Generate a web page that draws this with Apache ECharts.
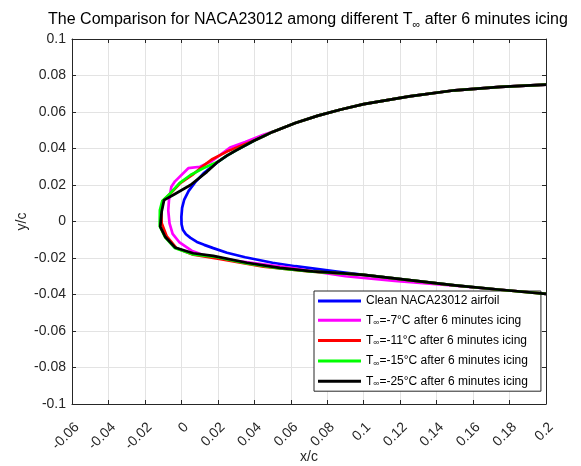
<!DOCTYPE html>
<html>
<head>
<meta charset="utf-8">
<script src="https://cdn.jsdelivr.net/npm/echarts@6/dist/echarts.min.js"></script>
<style>html,body{margin:0;padding:0;background:#fff}#c{width:581px;height:466px}</style>
</head>
<body>
<div id="c"></div>
<script>
// ---- data (x/c, y/c) ----
var X_MIN = -0.06, X_MAX = 0.2, X_STEP = 0.02;
var Y_MIN = -0.1, Y_MAX = 0.1, Y_STEP = 0.02;
var xTickLabels = ['-0.06','-0.04','-0.02','0','0.02','0.04','0.06','0.08','0.1','0.12','0.14','0.16','0.18','0.2'];
var yTickLabels = ['-0.1','-0.08','-0.06','-0.04','-0.02','0','0.02','0.04','0.06','0.08','0.1'];

var seriesNames = ['Clean NACA23012 airfoil','T∞=-7°C after 6 minutes icing','T∞=-11°C after 6 minutes icing','T∞=-15°C after 6 minutes icing','T∞=-25°C after 6 minutes icing'];
var seriesColors = ['#0000ff','#ff00ff','#ff0000','#00ff00','#000000'];

// clean airfoil, upper surface (aft -> LE)
var cleanUpper = [[0.2,0.0750],[0.175,0.0738],[0.15,0.0719],[0.125,0.0686],[0.1,0.0643],[0.0875,0.0614],[0.075,0.0580],[0.0625,0.0540],[0.05,0.0491],[0.045,0.0467],[0.04,0.0444],[0.03,0.0390],[0.025,0.0361],[0.02,0.0327],[0.0125,0.0267],[0.0075,0.0214],[0.004,0.0168],[0.0015,0.0118],[0.0004,0.0075],[0.0,0.0025]];
// clean airfoil, lower surface (LE -> aft)
var cleanLower = [[0.0001,-0.0015],[0.0008,-0.0045],[0.0025,-0.0070],[0.005,-0.0090],[0.0085,-0.0112],[0.0125,-0.0128],[0.0175,-0.0146],[0.025,-0.0171],[0.035,-0.0196],[0.05,-0.0226],[0.0625,-0.0245],[0.075,-0.0261],[0.0875,-0.0277],[0.1,-0.0292],[0.125,-0.0321],[0.15,-0.0350],[0.175,-0.0374],[0.2,-0.0397]];

// iced leading-edge portions (between the points where they leave / rejoin the clean contour)
var ice7 = [[0.045,0.0475],[0.035,0.0435],[0.0267,0.0405],[0.0166,0.0330],[0.0102,0.0300],[0.0038,0.0292],[-0.0035,0.0220],[-0.0055,0.0190],[-0.0068,0.0118],[-0.0072,0.0060],[-0.0065,-0.0010],[-0.0048,-0.0068],[-0.0010,-0.0115],[0.0056,-0.0160],[0.012,-0.0183],[0.03,-0.0215],[0.06,-0.0254],[0.09,-0.0300],[0.117,-0.0325],[0.15,-0.0352]];
var ice11 = [[0.035,0.0425],[0.025,0.0383],[0.0166,0.0340],[0.012,0.0305],[0.006,0.0255],[-0.001,0.0207],[-0.006,0.0153],[-0.0104,0.0111],[-0.0110,0.0045],[-0.0108,-0.0010],[-0.0080,-0.0082],[-0.0026,-0.0147],[0.0065,-0.0182],[0.02,-0.0203],[0.045,-0.0248],[0.07,-0.0273],[0.0875,-0.0284]];
var ice15 = [[0.019,0.0326],[0.012,0.0292],[0.005,0.0255],[-0.001,0.0210],[-0.006,0.0155],[-0.0105,0.0112],[-0.0118,0.0063],[-0.0119,-0.0025],[-0.0089,-0.0087],[-0.0037,-0.0145],[0.0065,-0.0180],[0.0175,-0.0192],[0.036,-0.0230],[0.054,-0.0257],[0.072,-0.0275],[0.0875,-0.0284]];
var ice25 = [[0.014,0.0272],[0.005,0.0200],[-0.004,0.0148],[-0.0095,0.0117],[-0.0108,0.0055],[-0.0116,-0.0028],[-0.0088,-0.0085],[-0.0035,-0.0142],[0.0065,-0.0174],[0.0175,-0.0188],[0.036,-0.0226],[0.054,-0.0254],[0.072,-0.0273],[0.0875,-0.0283]];

// build full contours: clean upper down to join x, iced part, clean lower from rejoin x
function contour(ice) {
  var xu = ice[0][0], xl = ice[ice.length - 1][0];
  var up = cleanUpper.filter(function (p) { return p[0] > xu; });
  var lo = cleanLower.filter(function (p) { return p[0] > xl; });
  return up.concat(ice, lo);
}
var seriesData = [cleanUpper.concat(cleanLower), contour(ice7), contour(ice11), contour(ice15), contour(ice25)];

var FONT = '"Liberation Sans", Arial, Helvetica, sans-serif';
var chart = echarts.init(document.getElementById('c'), null, {renderer: 'canvas'});

function richName(name) {
  if (name.indexOf('T∞') === 0) return '{t|T}{s|∞}{t|' + name.slice(2) + '}';
  return '{t|' + name + '}';
}

var axisCommon = {
  axisLine: {show: true, onZero: false, lineStyle: {color: '#262626', width: 1}},
  axisTick: {show: true, inside: true, length: 4, lineStyle: {color: '#262626'}},
};

var option = {
  animation: false,
  backgroundColor: '#ffffff',
  title: {
    text: '{t|The Comparison for NACA23012 among different T}{s|∞}{t| after 6 minutes icing}',
    left: 303, top: 5, textAlign: 'center',
    textStyle: {
      fontWeight: 'normal',
      rich: {
        t: {fontFamily: FONT, fontSize: 16, fontWeight: 'normal', color: '#000', lineHeight: 20, verticalAlign: 'middle'},
        s: {fontFamily: FONT, fontSize: 11, fontWeight: 'normal', color: '#000', lineHeight: 11, verticalAlign: 'bottom'}
      }
    }
  },
  grid: {left: 72, right: 35, top: 39, bottom: 62, containLabel: false, outerBoundsMode: 'none'},
  legend: {
    orient: 'vertical', left: 314, top: 291,
    data: seriesNames,
    icon: 'rect', itemWidth: 43, itemHeight: 3, itemGap: 7.3,
    padding: [4, 13, 3, 4],
    borderColor: '#262626', borderWidth: 1, backgroundColor: '#ffffff',
    formatter: function (n) { return richName(n); },
    textStyle: {
      rich: {
        t: {fontFamily: FONT, fontSize: 12, color: '#000', lineHeight: 14, verticalAlign: 'middle'},
        s: {fontFamily: FONT, fontSize: 8.5, color: '#000', lineHeight: 8, verticalAlign: 'bottom'}
      }
    }
  },
  xAxis: [
    Object.assign({
      type: 'value', min: X_MIN, max: X_MAX, interval: X_STEP, position: 'bottom',
      name: 'x/c', nameLocation: 'middle', nameGap: 46, nameMoveOverlap: false,
      nameTextStyle: {fontFamily: FONT, fontSize: 14, color: '#262626'},
      axisLabel: {
        rotate: 45, margin: 16, verticalAlign: 'top',
        fontFamily: FONT, fontSize: 14, color: '#262626',
        formatter: function (v) { return xTickLabels[Math.round((v - X_MIN) / X_STEP)]; }
      },
      splitLine: {show: true, lineStyle: {color: '#e3e3e3', width: 1}}
    }, axisCommon),
    Object.assign({
      type: 'value', min: X_MIN, max: X_MAX, interval: X_STEP, position: 'top',
      axisLabel: {show: false}, splitLine: {show: false}
    }, axisCommon)
  ],
  yAxis: [
    Object.assign({
      type: 'value', min: Y_MIN, max: Y_MAX, interval: Y_STEP, position: 'left',
      name: 'y/c', nameLocation: 'middle', nameGap: 43, nameRotate: 90, nameMoveOverlap: false,
      nameTextStyle: {fontFamily: FONT, fontSize: 14, color: '#262626'},
      axisLabel: {
        margin: 6, fontFamily: FONT, fontSize: 14, color: '#262626',
        formatter: function (v) { return yTickLabels[Math.round((v - Y_MIN) / Y_STEP)]; }
      },
      splitLine: {show: true, lineStyle: {color: '#e3e3e3', width: 1}}
    }, axisCommon),
    Object.assign({
      type: 'value', min: Y_MIN, max: Y_MAX, interval: Y_STEP, position: 'right',
      axisLabel: {show: false}, splitLine: {show: false}
    }, axisCommon)
  ],
  series: seriesNames.map(function (n, i) {
    return {
      name: n, type: 'line', xAxisIndex: 0, yAxisIndex: 0,
      data: seriesData[i], showSymbol: false, symbol: 'none', clip: true,
      color: seriesColors[i],
      lineStyle: {color: seriesColors[i], width: 2.7, join: 'round'},
      z: 2 + i
    };
  })
};
chart.setOption(option);
</script>
</body>
</html>
